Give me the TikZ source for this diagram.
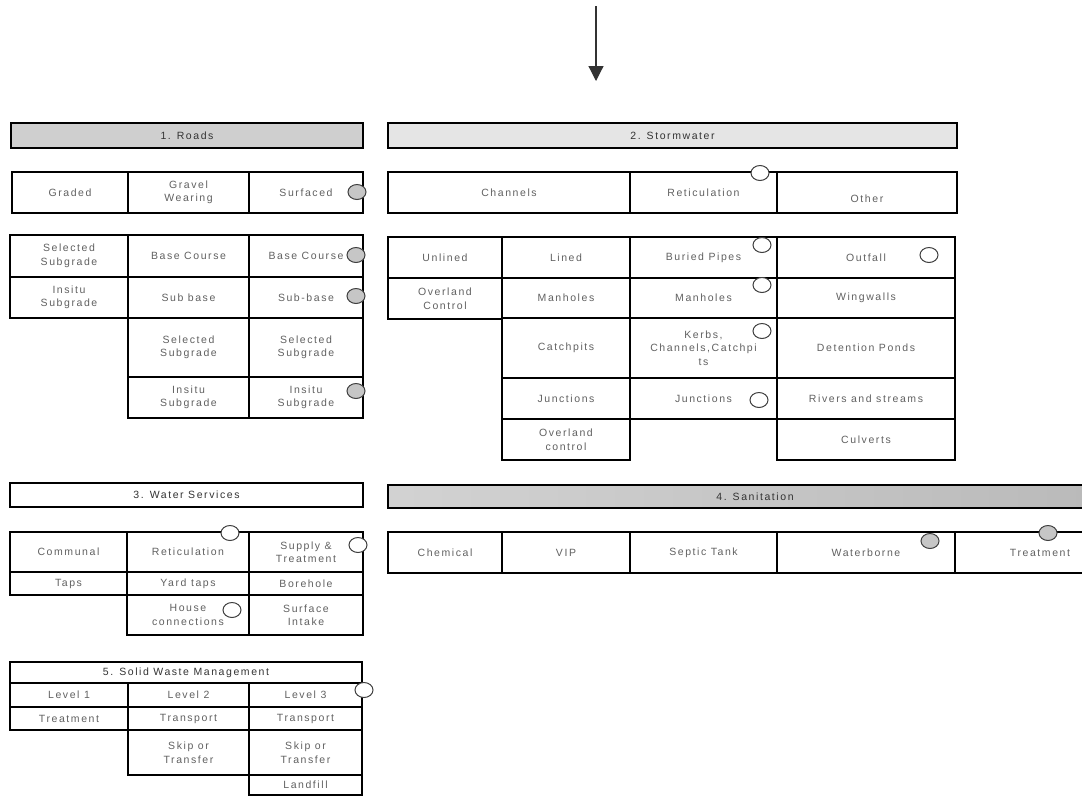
\documentclass[tikz,border=0pt]{standalone}
\usepackage{fontspec}
\setmainfont{Liberation Sans}[LetterSpace=15]
\usetikzlibrary{arrows.meta,shapes.geometric}
\tikzset{
  cell/.style={draw=black,line width=1.4pt,inner sep=1pt,outer sep=0pt,align=center,
    font=\fontsize{10.5}{13.5}\selectfont,text=black!62},
  hdr/.style={cell,text=black!80},
  circg/.style={ellipse,draw=black!75,line width=1pt,fill=gray!45,minimum width=18pt,minimum height=15pt,inner sep=0pt},
  circw/.style={circg,fill=white}
}
\newcommand\cellbox[7][]{\node[cell,#1,minimum width={#5pt-#3pt},minimum height={#6pt-#4pt},anchor=north west] (#2) at (#3,#4) {#7};}
\begin{document}
\begin{tikzpicture}[x=1pt,y=-1pt]
\useasboundingbox (0,0) rectangle (1082,796);
\fill[white] (0,0) rectangle (1082,796);
\clip (0,0) rectangle (1082,796);
% arrow
\coordinate (atop) at (596,6);
\coordinate (abot) at (596,81);
\draw[line width=1.2pt,black!80,-{Triangle[width=15pt,length=15pt]}] (atop) -- (abot);
% ---------- 1. Roads
\cellbox[hdr,fill=gray!38]{hdrRoads}{11}{123}{363}{148}{1. Roads}
\cellbox{rGraded}{12}{172}{128}{213}{Graded}
\cellbox{rGravel}{128}{172}{249}{213}{Gravel\\Wearing}
\cellbox{rSurf}{249}{172}{363}{213}{Surfaced}
\cellbox{rSelSub}{10}{235}{128}{277}{Selected\\Subgrade}
\cellbox{rInsitu}{10}{277}{128}{318}{Insitu\\Subgrade}
\cellbox{rBase1}{128}{235}{249}{277}{Base Course}
\cellbox{rSub1}{128}{277}{249}{318}{Sub base}
\cellbox{rSel1}{128}{318}{249}{377}{Selected\\Subgrade}
\cellbox{rIns1}{128}{377}{249}{418}{Insitu\\Subgrade}
\cellbox{rBase2}{249}{235}{363}{277}{Base Course}
\cellbox{rSub2}{249}{277}{363}{318}{Sub-base}
\cellbox{rSel2}{249}{318}{363}{377}{Selected\\Subgrade}
\cellbox{rIns2}{249}{377}{363}{418}{Insitu\\Subgrade}
\node[circg] (cSurf) at (357,192) {};
\node[circg] (cBase2) at (356,255) {};
\node[circg] (cSub2) at (356,296) {};
\node[circg] (cIns2) at (356,391) {};
% ---------- 2. Stormwater
\cellbox[hdr,fill=gray!20]{hdrStorm}{388}{123}{957}{148}{2. Stormwater}
\cellbox{sChan}{388}{172}{630}{213}{Channels}
\cellbox{sRet}{630}{172}{777}{213}{Reticulation}
\cellbox{sOther}{777}{172}{957}{213}{\vphantom{X}\\Other}
\cellbox{sUnl}{388}{237}{502}{278}{Unlined}
\cellbox{sOvl}{388}{278}{502}{319}{Overland\\Control}
\cellbox{sLined}{502}{237}{630}{278}{Lined}
\cellbox{sMan1}{502}{278}{630}{318}{Manholes}
\cellbox{sCatch}{502}{318}{630}{378}{Catchpits}
\cellbox{sJun1}{502}{378}{630}{419}{Junctions}
\cellbox{sOvl2}{502}{419}{630}{460}{Overland\\control}
\cellbox{sBur}{630}{237}{777}{278}{Buried Pipes}
\cellbox{sMan2}{630}{278}{777}{318}{Manholes}
\cellbox{sKerb}{630}{318}{777}{378}{Kerbs,\\Channels,Catchpi\\ts}
\cellbox{sJun2}{630}{378}{777}{419}{Junctions}
\cellbox{sOut}{777}{237}{955}{278}{Outfall}
\cellbox{sWing}{777}{278}{955}{318}{Wingwalls}
\cellbox{sDet}{777}{318}{955}{378}{Detention Ponds}
\cellbox{sRiv}{777}{378}{955}{419}{Rivers and streams}
\cellbox{sCul}{777}{419}{955}{460}{Culverts}
\node[circw] (cRet) at (760,173) {};
\node[circw] (cBur) at (762,245) {};
\node[circw] (cOut) at (929,255) {};
\node[circw] (cMan2) at (762,285) {};
\node[circw] (cKerb) at (762,331) {};
\node[circw] (cJun2) at (759,400) {};
% ---------- 3. Water Services
\cellbox[hdr,fill=white]{hdrWater}{10}{483}{363}{507}{3. Water Services}
\cellbox{wComm}{10}{532}{127}{572}{Communal}
\cellbox{wTaps}{10}{572}{127}{595}{Taps}
\cellbox{wRet}{127}{532}{249}{572}{Reticulation}
\cellbox{wYard}{127}{572}{249}{595}{Yard taps}
\cellbox{wHouse}{127}{595}{249}{635}{House\\connections}
\cellbox{wSup}{249}{532}{363}{572}{Supply \&\\Treatment}
\cellbox{wBore}{249}{572}{363}{595}{Borehole}
\cellbox{wSurf}{249}{595}{363}{635}{Surface\\Intake}
\node[circw] (cwRet) at (230,533) {};
\node[circw] (cwSup) at (358,545) {};
\node[circw] (cwHouse) at (232,610) {};
% ---------- 4. Sanitation
\cellbox[hdr,left color=gray!35,right color=gray!55]{hdrSan}{388}{485}{1122}{508}{4. Sanitation}
\cellbox{nChem}{388}{532}{502}{573}{Chemical}
\cellbox{nVIP}{502}{532}{630}{573}{VIP}
\cellbox{nSep}{630}{532}{777}{573}{Septic Tank}
\cellbox{nWat}{777}{532}{955}{573}{Waterborne}
\cellbox{nTreat}{955}{532}{1125}{573}{Treatment}
\node[circg] (cWat) at (930,541) {};
\node[circg] (cTreat) at (1048,533) {};
% ---------- 5. Solid Waste Management
\cellbox[hdr,fill=white]{hdrSolid}{10}{662}{362}{683}{5. Solid Waste Management}
\cellbox{gL1}{10}{683}{128}{707}{Level 1}
\cellbox{gTr}{10}{707}{128}{730}{Treatment}
\cellbox{gL2}{128}{683}{249}{707}{Level 2}
\cellbox{gTp2}{128}{707}{249}{730}{Transport}
\cellbox{gSk2}{128}{730}{249}{775}{Skip or\\Transfer}
\cellbox{gL3}{249}{683}{362}{707}{Level 3}
\cellbox{gTp3}{249}{707}{362}{730}{Transport}
\cellbox{gSk3}{249}{730}{362}{775}{Skip or\\Transfer}
\cellbox{gLand}{249}{775}{362}{795}{Landfill}
\node[circw] (cgL3) at (364,690) {};
\end{tikzpicture}
\end{document}
